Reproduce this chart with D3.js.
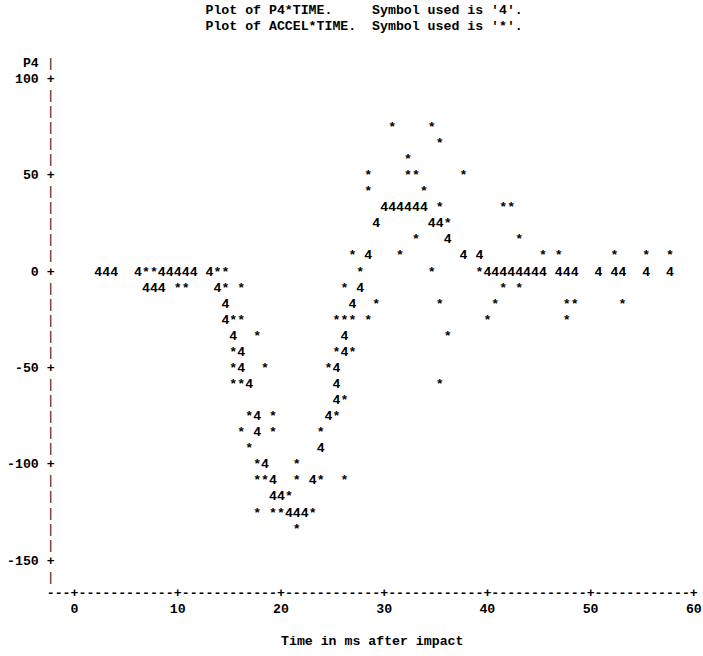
<!DOCTYPE html>
<html>
<head>
<meta charset="utf-8">
<script src="https://cdn.jsdelivr.net/npm/d3@7"></script>
<style>
  body { margin: 0; background: #fff; }
  svg text { font-family: "Liberation Mono", "Courier New", monospace; font-weight: bold; fill: #000; white-space: pre; }
  svg text.rule { font-weight: normal; fill: #000; opacity: 0.9; }
</style>
</head>
<body>
<div id="plot"></div>
<script>
// P4 (symbol '4') and ACCEL (symbol '*')
const p4Time = [2.3, 3.1, 3.8, 6.2, 6.9, 7.7, 8.5, 8.5, 9.2, 10.0, 10.8, 11.5, 13.1, 13.8, 14.6, 14.6,
  15.4, 16.2, 16.2, 16.9, 17.7, 17.7, 18.5, 19.2, 19.2, 20.0, 20.8, 21.5, 22.3, 23.1, 23.8, 24.6,
  25.4, 25.4, 25.4, 26.2, 26.2, 26.9, 27.7, 28.5, 29.2, 30.0, 30.8, 31.5, 32.3, 33.1, 33.8, 34.6,
  35.4, 36.2, 37.7, 39.2, 40.0, 40.8, 41.5, 42.3, 43.1, 43.8, 44.6, 45.4, 46.9, 47.7, 48.5, 50.8,
  52.3, 53.1, 55.4, 57.7];
const p4Value = [0, 0, 0, 0, -8.3, -8.3, -8.3, 0, 0, 0, 0, 0, 0, -8.3, -16.7, -25,
  -33.3, -41.7, -50, -58.3, -75, -83.3, -100, -108.3, -116.7, -116.7, -125, -125, -125, -108.3, -91.7, -75,
  -66.7, -58.3, -50, -41.7, -33.3, -16.7, -8.3, 8.3, 25, 33.3, 33.3, 33.3, 33.3, 33.3, 33.3, 25,
  25, 16.7, 8.3, 8.3, 0, 0, 0, 0, 0, 0, 0, 0, 0, 0, 0, 0,
  0, 0, 0, 0];

const accelTime = [6.9, 7.7, 10.0, 10.8, 13.8, 14.6, 14.6, 15.4, 15.4, 15.4, 15.4, 16.2, 16.2, 16.2, 16.2,
  16.9, 16.9, 17.7, 17.7, 17.7, 17.7, 18.5, 18.5, 19.2, 19.2, 19.2, 20.0, 20.8, 21.5, 21.5, 21.5,
  23.1, 23.8, 23.8, 24.6, 25.4, 25.4, 25.4, 26.2, 26.2, 26.2, 26.2, 26.9, 26.9, 26.9, 27.7,
  28.5, 28.5, 28.5, 29.2, 30.8, 31.5, 32.3, 32.3, 33.1, 33.1, 33.8, 34.6, 34.6, 35.4, 35.4, 35.4, 35.4,
  36.2, 36.2, 37.7, 39.2, 40.0, 40.8, 41.5, 41.5, 42.3, 43.1, 43.1, 45.4, 46.9, 47.7, 47.7, 48.5,
  52.3, 53.1, 55.4, 57.7];
const accelValue = [0, 0, -8.3, -8.3, 0, 0, -8.3, -25, -41.7, -50, -58.3, -8.3, -25, -58.3, -83.3,
  -75, -91.7, -33.3, -100, -108.3, -125, -50, -108.3, -75, -83.3, -125, -125, -116.7, -100, -108.3, -133.3,
  -125, -83.3, -108.3, -50, -25, -41.7, -75, -8.3, -25, -66.7, -108.3, 8.3, -25, -41.7, 0,
  50, 41.7, -25, -16.7, 75, 8.3, 58.3, 50, 50, 16.7, 41.7, 75, 0, 66.7, 33.3, -16.7, -58.3,
  25, -33.3, 50, 0, -25, -16.7, 33.3, -8.3, 33.3, 16.7, -8.3, 8.3, 8.3, -16.7, -25, -16.7,
  8.3, -16.7, 8.3, 8.3];

const xTicks = [0, 10, 20, 30, 40, 50, 60];
const yTicks = [100, 50, 0, -50, -100, -150];
const titleLines = ["Plot of P4*TIME.     Symbol used is '4'.", "Plot of ACCEL*TIME.  Symbol used is '*'."];
const yLabel = "P4";
const xLabel = "Time in ms after impact";

// character cell of the printer page
const width = 703,
  height = 656,
  cw = 7.94,
  rh = 16.07,
  x0 = 74.5,
  y0 = 272;

const svg = d3
  .select("#plot")
  .append("svg")
  .attr("width", width)
  .attr("height", height)
  .style("font-size", cw / 0.6 + "px");

const x = d3.scaleLinear().domain([0, 60]).range([x0, x0 + 78 * cw]);
const y = d3.scaleLinear().domain([-150, 100]).range([y0 + 18 * rh, y0 - 12 * rh]);

// snap to the character grid like the printer does
const col = t => Math.round((x(t) - x0) / cw);
const row = v => Math.round((y0 - y(v)) / rh);
const cx = c => x0 + c * cw;
const cy = r => y0 - r * rh;

const putChar = (g, c, r, ch, cls) =>
  g
    .append("text")
    .attr("class", cls || null)
    .attr("x", cx(c))
    .attr("y", cy(r))
    .attr("text-anchor", "middle")
    .attr("dominant-baseline", "central")
    .text(ch);

// titles
svg
  .selectAll(".title")
  .data(titleLines)
  .enter()
  .append("text")
  .attr("class", "title")
  .attr("x", cx(17) - cw / 2)
  .attr("y", (d, i) => cy(16.25 - i))
  .attr("dominant-baseline", "central")
  .text(d => d);

// vertical axis
const yAxis = svg.append("g").attr("class", "yaxis");
const tickRows = yTicks.map(row);
d3.range(13, -20, -1).forEach(r =>
  tickRows.includes(r) ? putChar(yAxis, -3, r, "+") : putChar(yAxis, -3, r, "|", "rule")
);
yAxis
  .selectAll(".ylab")
  .data(yTicks)
  .enter()
  .append("text")
  .attr("class", "ylab")
  .attr("x", cx(-5) + cw / 2)
  .attr("y", d => cy(row(d)))
  .attr("text-anchor", "end")
  .attr("dominant-baseline", "central")
  .text(d => d);
yAxis
  .append("text")
  .attr("x", cx(-5) + cw / 2)
  .attr("y", cy(13))
  .attr("text-anchor", "end")
  .attr("dominant-baseline", "central")
  .text(yLabel);

// horizontal axis
const xAxis = svg.append("g").attr("class", "xaxis");
const tickCols = xTicks.map(col);
d3.range(-3, 79).forEach(c => putChar(xAxis, c, -20, tickCols.includes(c) ? "+" : "-"));
xAxis
  .selectAll(".xlab")
  .data(xTicks)
  .enter()
  .append("text")
  .attr("class", "xlab")
  .attr("x", d => cx(col(d)))
  .attr("y", cy(-21))
  .attr("text-anchor", "middle")
  .attr("dominant-baseline", "central")
  .text(d => d);
xAxis
  .append("text")
  .attr("x", (cx(-3) + cx(78)) / 2)
  .attr("y", cy(-23))
  .attr("text-anchor", "middle")
  .attr("dominant-baseline", "central")
  .text(xLabel);

// plot symbols
const p4 = svg.append("g").attr("class", "p4");
p4Time.forEach((t, i) => putChar(p4, col(t), row(p4Value[i]), "4"));
const accel = svg.append("g").attr("class", "accel");
accelTime.forEach((t, i) => putChar(accel, col(t), row(accelValue[i]), "*"));
</script>
</body>
</html>
